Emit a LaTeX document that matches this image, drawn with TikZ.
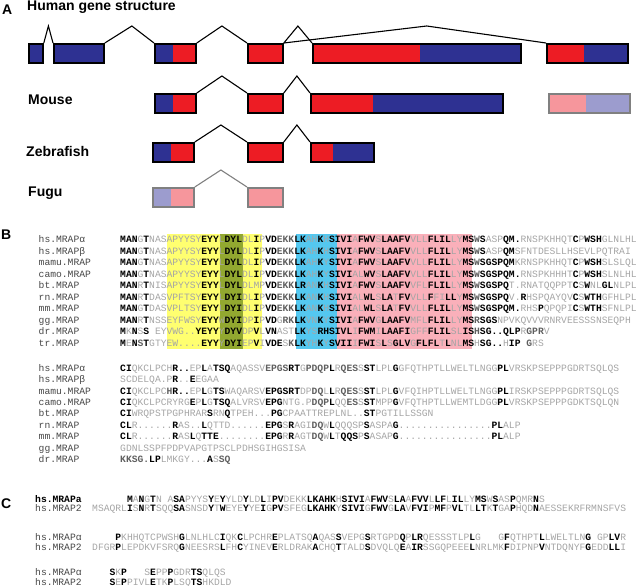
\documentclass[tikz,border=0pt]{standalone}
\usepackage{fontspec}
\setmainfont{Liberation Sans}
\setmonofont{Liberation Mono}
\usetikzlibrary{calc}

\definecolor{exblue}{RGB}{46,49,146}
\definecolor{exred}{RGB}{237,28,36}
\definecolor{palered}{RGB}{246,150,156}
\definecolor{paleblue}{RGB}{156,156,206}
\definecolor{hlyel}{RGB}{255,255,112}
\definecolor{hlgrn}{RGB}{146,168,48}
\definecolor{hlblu}{RGB}{84,200,240}
\definecolor{hlpnk}{RGB}{250,176,186}
\definecolor{seqlight}{RGB}{165,165,165}
\definecolor{seqmid}{RGB}{95,95,95}
\definecolor{taggray}{RGB}{70,70,70}

\newcommand{\seqfont}{\ttfamily\fontsize{9.67}{11}\selectfont}
\newcommand{\bk}[1]{{\bfseries\color{black}#1}}
\newcommand{\gy}[1]{{\bfseries\color{seqmid}#1}}

\tikzset{
  lpart/.style 2 args={path picture={\fill[#2] (path picture bounding box.south west) rectangle ([xshift=#1]path picture bounding box.north west);}},
  intron/.style={to path={-- ($(\tikztostart)!#1!(\tikztotarget)+(0,-17)$) -- (\tikztotarget)}},
  intron/.default=0.5
}

\begin{document}
\begin{tikzpicture}[x=1pt, y=-1pt]
	\tikzstyle{exon} = [draw, line width = 1.8pt, inner sep = 0pt, minimum height = 19pt, anchor = north west]
	\tikzstyle{faded} = [exon, draw = gray]
	\tikzstyle{link} = [line width = 1.1pt]
	\tikzstyle{panel} = [anchor = base west, inner sep = 0pt, font = \bfseries\fontsize{14}{16}\selectfont]
	\tikzstyle{seq} = [anchor = base west, inner sep = 0pt, text = seqlight, font = \seqfont]
	\tikzstyle{tag} = [anchor = base west, inner sep = 0pt, text = taggray, font = \seqfont]
	\useasboundingbox (0,0) rectangle (640,586);

	% A: exon structures
	\node[panel] (pA) at (2,15) {A};
	\node[panel] (human) at (27,10.7) {Human gene structure};
	\node[panel] (mouse) at (28,104) {Mouse};
	\node[panel] (zebra) at (26,156) {Zebrafish};
	\node[panel] (fugu) at (28,196.7) {Fugu};

	\node[exon, fill = exblue, minimum width = 14pt] (h1) at (28,43) {};
	\node[exon, fill = exblue, minimum width = 50pt] (h2) at (53,43) {};
	\node[exon, fill = exred, minimum width = 41pt, lpart = {18pt}{exblue}] (h3) at (154,43) {};
	\node[exon, fill = exred, minimum width = 35pt] (h4) at (247,43) {};
	\node[exon, fill = exblue, minimum width = 208pt, lpart = {107pt}{exred}] (h5) at (312,43) {};
	\node[exon, fill = exblue, minimum width = 81pt, lpart = {37pt}{exred}] (h6) at (546,43) {};
	\draw[link] (h1.north east) to[intron] (h2.north west);
	\draw[link] (h2.north east) to[intron = 0.55] (h3.north west);
	\draw[link] (h3.north east) to[intron] (h4.north west);
	\draw[link] (h4.north east) to[intron] (h5.north west);
	\draw[link] (h4.north east) to[intron = 0.545] (h6.north west);

	\node[exon, fill = exred, minimum width = 41pt, lpart = {18pt}{exblue}] (m1) at (154,93) {};
	\node[exon, fill = exred, minimum width = 35pt] (m2) at (247,93) {};
	\node[exon, fill = exblue, minimum width = 192pt, lpart = {62pt}{exred}] (m3) at (310,93) {};
	\node[faded, fill = paleblue, minimum width = 81pt, lpart = {37pt}{palered}] (m4) at (548,93) {};
	\draw[link] (m1.north east) to[intron] (m2.north west);
	\draw[link] (m2.north east) to[intron] (m3.north west);

	\node[exon, fill = exred, minimum width = 41pt, lpart = {18pt}{exblue}] (z1) at (152,142) {};
	\node[exon, fill = exred, minimum width = 35pt] (z2) at (247,142) {};
	\node[exon, fill = exblue, minimum width = 63pt, lpart = {22pt}{exred}] (z3) at (310,142) {};
	\draw[link] (z1.north east) to[intron] (z2.north west);
	\draw[link] (z2.north east) to[intron] (z3.north west);

	\node[faded, fill = palered, minimum width = 41pt, lpart = {18pt}{paleblue}] (f1) at (152,187) {};
	\node[faded, fill = palered, minimum width = 35pt] (f2) at (247,187) {};
	\draw[link, gray] (f1.north east) to[intron] (f2.north west);

	% B: alignment of MRAP orthologues
	\node[panel] (pB) at (1,239.3) {B};
	\fill[hlyel] (167,233.5) rectangle (262,348.5);
	\fill[hlgrn] (220,233.5) rectangle (243,348.5);
	\fill[hlblu] (295.5,233.5) rectangle (337,348.5);
	\fill[hlpnk] (337,233.5) rectangle (472,348.5);

	\node[tag] (tB1) at (38.5,242.7) {hs.MRAPα};
	\node[tag] (tB2) at (38.5,254.2) {hs.MRAPβ};
	\node[tag] (tB3) at (38.5,265.7) {mamu.MRAP};
	\node[tag] (tB4) at (38.5,277.1) {camo.MRAP};
	\node[tag] (tB5) at (38.5,288.6) {bt.MRAP};
	\node[tag] (tB6) at (38.5,300.1) {rn.MRAP};
	\node[tag] (tB7) at (38.5,311.6) {mm.MRAP};
	\node[tag] (tB8) at (38.5,323.1) {gg.MRAP};
	\node[tag] (tB9) at (38.5,334.5) {dr.MRAP};
	\node[tag] (tB10) at (38.5,346.0) {tr.MRAP};

	\node[seq] (qB1) at (120,242.7) {\bk{MAN}G\bk{T}NASAPYYSY\bk{EYY}L\bk{DYL}DL\bk{I}P\bk{VD}\gy{EKK}\bk{LK}AH\bk{K}H\bk{SIVI}A\bk{FWV}S\bk{LAAFV}VLL\bk{FLIL}LY\bk{MS}\gy{W}\bk{S}ASP\bk{QM.}RNSPKHHQT\bk{C}P\bk{WSH}GLNLHL};
	\node[seq] (qB2) at (120,254.2) {\bk{MAN}G\bk{T}NASAPYYSY\bk{EYY}L\bk{DYL}DL\bk{I}P\bk{VD}\gy{EKK}\bk{LK}AH\bk{K}H\bk{SIVI}A\bk{FWV}S\bk{LAAFV}VLL\bk{FLIL}LY\bk{MS}\gy{W}\bk{S}ASP\bk{QM}SFNTDESLLHSEVLPQTRAI};
	\node[seq] (qB3) at (120,265.7) {\bk{MAN}G\bk{T}NASAPYYSY\bk{EYY}L\bk{DYL}DL\bk{I}P\bk{VD}\gy{EKK}\bk{LK}AH\bk{K}Y\bk{SIVI}A\bk{FWV}S\bk{LAAFV}VLL\bk{FLIL}LY\bk{MS}\gy{W}\bk{SGSPQM}KRNSPKHHQT\bk{C}P\bk{WSH}SLSLQL};
	\node[seq] (qB4) at (120,277.1) {\bk{MAN}G\bk{T}NASAPYYSY\bk{EYY}L\bk{DYL}DL\bk{I}P\bk{VD}\gy{EKK}\bk{LK}AH\bk{K}Y\bk{SIVI}AL\bk{WV}S\bk{LAAFV}VLL\bk{FLIL}LY\bk{MS}\gy{W}\bk{SGSPQM.}RNSPKHHHT\bk{C}P\bk{WSH}SLNLHL};
	\node[seq] (qB5) at (120,288.6) {\bk{MAN}R\bk{T}NISAPYYSY\bk{EYY}L\bk{DYL}DLMP\bk{VD}\gy{EKK}\bk{LR}AN\bk{K}H\bk{SIVI}A\bk{FWV}S\bk{LAAFV}VFL\bk{FLIL}LY\bk{MS}\gy{W}\bk{SGSPQ}T.RNATQQPPT\bk{C}S\bk{W}NL\bk{GL}NLPL};
	\node[seq] (qB6) at (120,300.1) {\bk{MAN}R\bk{T}DASVPFTSY\bk{EYY}L\bk{DYI}DL\bk{I}P\bk{VD}\gy{EKK}\bk{LK}AN\bk{K}H\bk{SIVI}AL\bk{WL}S\bk{LA}T\bk{FV}VLL\bk{F}FI\bk{LL}Y\bk{MS}\gy{W}\bk{SGSPQ}V.\bk{R}HSPQAYQV\bk{C}S\bk{WTH}GFHLPL};
	\node[seq] (qB7) at (120,311.6) {\bk{MAN}G\bk{T}DASVPLTSY\bk{EYY}L\bk{DYI}DL\bk{I}P\bk{VD}\gy{EKK}\bk{LK}AN\bk{K}H\bk{SIVI}AL\bk{WL}S\bk{LA}T\bk{FV}VLL\bk{FLIL}LY\bk{MS}\gy{W}\bk{SGSPQM.}RHS\bk{P}QPQPI\bk{C}S\bk{WTH}SFNLPL};
	\node[seq] (qB8) at (120,323.1) {\bk{MAN}R\bk{T}NSSEYFWSY\bk{EYY}W\bk{DYI}DP\bk{I}P\bk{VD}G\gy{RK}\bk{LK}VN\bk{K}Y\bk{SIVI}A\bk{FWV}G\bk{LAAFV}MFL\bk{FLIL}LY\bk{MS}\gy{R}\bk{SGS}NPVKQVVVRNRVEESSSNSEQPH};
	\node[seq] (qB9) at (120,334.5) {\bk{M}K\bk{N}S\bk{S}~EYVWG..\bk{YEYY}Y\bk{DYV}DP\bk{V}L\bk{VN}AST\bk{LK}YS\bk{RHSIVL}I\bk{FWM}I\bk{LAAFI}GFF\bk{FLIL}SL\bk{IS}\gy{H}\bk{SG..QLP}R\gy{GPR}V};
	\node[seq] (qB10) at (120,346.0) {\bk{M}E\bk{N}\gy{S}\bk{T}GTYEW....\bk{EYY}Y\bk{DYI}EP\bk{V}I\bk{VDE}S\gy{K}\bk{LK}YH\bk{K}Y\bk{SVII}I\bk{FWI}S\bk{L}S\bk{GLV}G\bk{FLFL}T\bk{L}NL\bk{MS}H\bk{SG..}H\bk{IP}~\gy{G}RS};

	\node[tag] (tBB1) at (38.5,371.0) {hs.MRAPα};
	\node[tag] (tBB2) at (38.5,382.5) {hs.MRAPβ};
	\node[tag] (tBB3) at (38.5,394.0) {mamu.MRAP};
	\node[tag] (tBB4) at (38.5,405.4) {camo.MRAP};
	\node[tag] (tBB5) at (38.5,416.9) {bt.MRAP};
	\node[tag] (tBB6) at (38.5,428.4) {rn.MRAP};
	\node[tag] (tBB7) at (38.5,439.8) {mm.MRAP};
	\node[tag] (tBB8) at (38.5,451.3) {gg.MRAP};
	\node[tag] (tBB9) at (38.5,462.8) {dr.MRAP};

	\node[seq] (qBB1) at (120,371.0) {\bk{CI}QKCLPCH\bk{R..}EP\bk{L}A\bk{TSQ}AQASSV\gy{EPGS}\bk{RT}G\gy{PDQP}\bk{L}R\gy{QES}S\bk{ST}LPL\bk{G}GFQTHPTLLWELTLNGG\bk{PL}VRSKPSEPPPGDRTSQLQS};
	\node[seq] (qBB2) at (120,382.5) {SCDELQA.P\bk{R}..\bk{E}EGAA};
	\node[seq] (qBB3) at (120,394.0) {\bk{CI}QKCLPC\gy{H}\bk{R..}EP\bk{L}G\bk{TS}WAQARSV\bk{EPGSRT}DP\gy{DQ}L\bk{L}R\gy{QES}S\bk{ST}LPL\bk{G}VFQIHPTLLWELTLNGG\bk{PL}IRSKPSEPPPGDRTSQLQS};
	\node[seq] (qBB4) at (120,405.4) {\bk{CI}QKCLPCRYRG\bk{E}P\bk{L}G\bk{TSQ}ALVRSV\bk{EPG}NTG.P\gy{DQP}\bk{L}QQ\gy{ES}S\bk{ST}MPP\bk{G}VFQTHPTLLWEMTLDGG\bk{PL}VRSKPSEPPPGDKTSQLQN};
	\node[seq] (qBB5) at (120,416.9) {\bk{CI}WRQPSTPGPHRAR\bk{S}RN\bk{Q}TPEH...\bk{PG}CPAATTREPLNL..\bk{ST}PGTILLSSGN};
	\node[seq] (qBB6) at (120,428.4) {\bk{CL}R......\bk{R}AS..\bk{L}QTTD......\bk{EPG}S\bk{R}AGI\gy{DQ}W\bk{L}QQQSP\bk{S}ASPA\bk{G}................\bk{PL}ALP};
	\node[seq] (qBB7) at (120,439.8) {\bk{CL}R......\bk{R}AS\bk{L}Q\bk{TTE}........\bk{EPG}R\bk{R}AGT\gy{DQ}W\bk{L}T\bk{QQS}P\bk{S}ASAP\bk{G}................\bk{PL}ALP};
	\node[seq] (qBB8) at (120,451.3) {GDNLSSPFPDPVAPGTPSCLPDHSGIHGSISA};
	\node[seq] (qBB9) at (120,462.8) {\gy{KKSG.}\bk{LP}LMKGY...\bk{A}S\gy{SQ}};

	% C: MRAP vs MRAP2
	\node[panel] (pC) at (1,508.7) {C};
	\node[tag, text = black, font = \seqfont\bfseries] (tC1) at (35,502.3) {hs.MRAPa};
	\node[tag] (tC2) at (35,511.8) {hs.MRAP2};
	\node[tag] (tC3) at (35,540.5) {hs.MRAPα};
	\node[tag] (tC4) at (35,550.0) {hs.MRAP2};
	\node[tag] (tC5) at (35,575.5) {hs.MRAPα};
	\node[tag] (tC6) at (35,585.0) {hs.MRAP2};

	\node[seq] (qC1) at (92,502.3) {~~~~~~\bk{M}A\bk{N}G\bk{T}N~A\bk{SA}PYYS\bk{Y}E\bk{Y}YLD\bk{Y}LD\bk{L}I\bk{PV}DEKK\bk{LKAHK}H\bk{SIVI}A\bk{FWV}S\bk{LA}A\bk{FVV}L\bk{LF}L\bk{IL}LY\bk{MS}W\bk{S}AS\bk{P}QMR\bk{N}S};
	\node[seq] (qC2) at (92,511.8) {MSAQRL\bk{I}S\bk{N}R\bk{T}SQQ\bk{SA}SNSD\bk{Y}T\bk{W}EYE\bk{Y}YE\bk{I}G\bk{PV}SFEG\bk{LKAHK}Y\bk{SIVI}G\bk{FWV}G\bk{LA}V\bk{FVI}P\bk{MF}P\bk{VL}TL\bk{LT}K\bk{T}GA\bk{P}HQD\bk{N}AESSEKRFRMNSFVS};
	\node[seq] (qC3) at (92,540.5) {~~~~\bk{P}KHHQTCPWSH\bk{G}LNLHLC\bk{I}QK\bk{C}LPCHR\bk{E}PLATSQ\bk{A}QAS\bk{S}VEPG\bk{S}RTGPD\bk{Q}P\bk{LR}QESSSTLP\bk{L}G~~~G\bk{F}QTHPT\bk{L}LWELTLN\bk{G}~GP\bk{LV}R};
	\node[seq] (qC4) at (92,550.0) {DFGR\bk{P}LEPDKVFSRQ\bk{G}NEESRS\bk{L}FH\bk{C}YINEV\bk{E}RLDRAK\bk{A}CHQ\bk{T}TALD\bk{S}DVQLQ\bk{E}A\bk{IR}SSGQPEEE\bk{L}NRLMK\bk{F}DIPNP\bk{V}NTDQNYF\bk{G}EDD\bk{LL}I};
	\node[seq] (qC5) at (92,575.5) {~~~\bk{S}K\bk{P}~~~S\bk{E}PP\bk{P}GDR\bk{TS}QLQS};
	\node[seq] (qC6) at (92,585.0) {~~~\bk{S}E\bk{P}PIVL\bk{E}TK\bk{P}LSQ\bk{TS}HKDLD};
\end{tikzpicture}
\end{document}
